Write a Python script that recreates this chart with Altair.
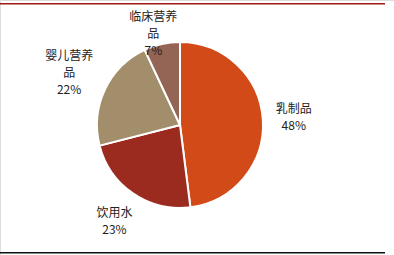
import altair as alt
import pandas as pd

categories = ["乳制品", "饮用水", "婴儿营养品", "临床营养品"]
values = [48, 23, 22, 7]
label_texts = ["乳制品\n48%", "饮用水\n23%", "婴儿营养\n品\n22%", "临床营养\n品\n7%"]
colors = ["#D24A18", "#9C2B1F", "#A38E6C", "#946454"]

CX, CY = 180, 125
R = 83
GAP = 13
FS = 12
LH = 17
TOP = 8

df = pd.DataFrame({
    "cat": categories,
    "val": values,
    "label": label_texts,
    "order": list(range(len(categories))),
})
# derived label box size (lines and longest line)
df["nlines"] = df["label"].str.count("\n") + 1
df["maxlen"] = df["label"].apply(lambda s: max(len(t) for t in s.split("\n")))
total = sum(values)

arcs = alt.Chart(df).mark_arc(outerRadius=R, stroke="white", strokeWidth=2).encode(
    theta=alt.Theta("val:Q", stack=True),
    order=alt.Order("order:Q"),
    x=alt.value(CX),
    y=alt.value(CY),
    color=alt.Color("cat:N", scale=alt.Scale(domain=categories, range=colors), legend=None),
)

labels = alt.Chart(df).transform_stack(
    stack="val", groupby=[], as_=["v0", "v1"], sort=[alt.SortField("order")]
).transform_calculate(
    a=f"2 * PI * (datum.v0 + datum.v1) / 2 / {total}",
    hw=f"datum.maxlen * {FS} / 2",
    hh=f"datum.nlines * {LH} / 2",
).transform_calculate(
    r=f"{R + GAP} + min(datum.hw / max(abs(sin(datum.a)), 1e-6), datum.hh / max(abs(cos(datum.a)), 1e-6))",
).transform_calculate(
    lx=f"{CX} + datum.r * sin(datum.a)",
    lyc=f"max({CY} - datum.r * cos(datum.a), {TOP} + datum.hh)",
).transform_calculate(
    ly=f"datum.lyc - (datum.nlines - 1) * {LH} / 2",
).mark_text(
    fontSize=FS, font="Noto Sans CJK SC", color="#222222",
    lineBreak="\n", lineHeight=LH, align="center", baseline="middle",
).encode(
    x=alt.X("lx:Q", scale=None),
    y=alt.Y("ly:Q", scale=None),
    text="label:N",
)

line_df = pd.DataFrame({"k": [0]})
top_line = alt.Chart(line_df).mark_rect(color="#A01818").encode(
    x=alt.value(0), x2=alt.value(385), y=alt.value(3), y2=alt.value(4.5)
)
bottom_line = alt.Chart(line_df).mark_rect(color="#111111").encode(
    x=alt.value(0), x2=alt.value(385), y=alt.value(252), y2=alt.value(253.5)
)

chart = alt.layer(arcs, labels, top_line, bottom_line).properties(
    width=394, height=255, autosize=alt.AutoSizeParams(type="none"), padding=0,
).configure_view(stroke=None).configure(background="white")

chart.save("out.html", embed_options={"renderer": "svg", "actions": False})
